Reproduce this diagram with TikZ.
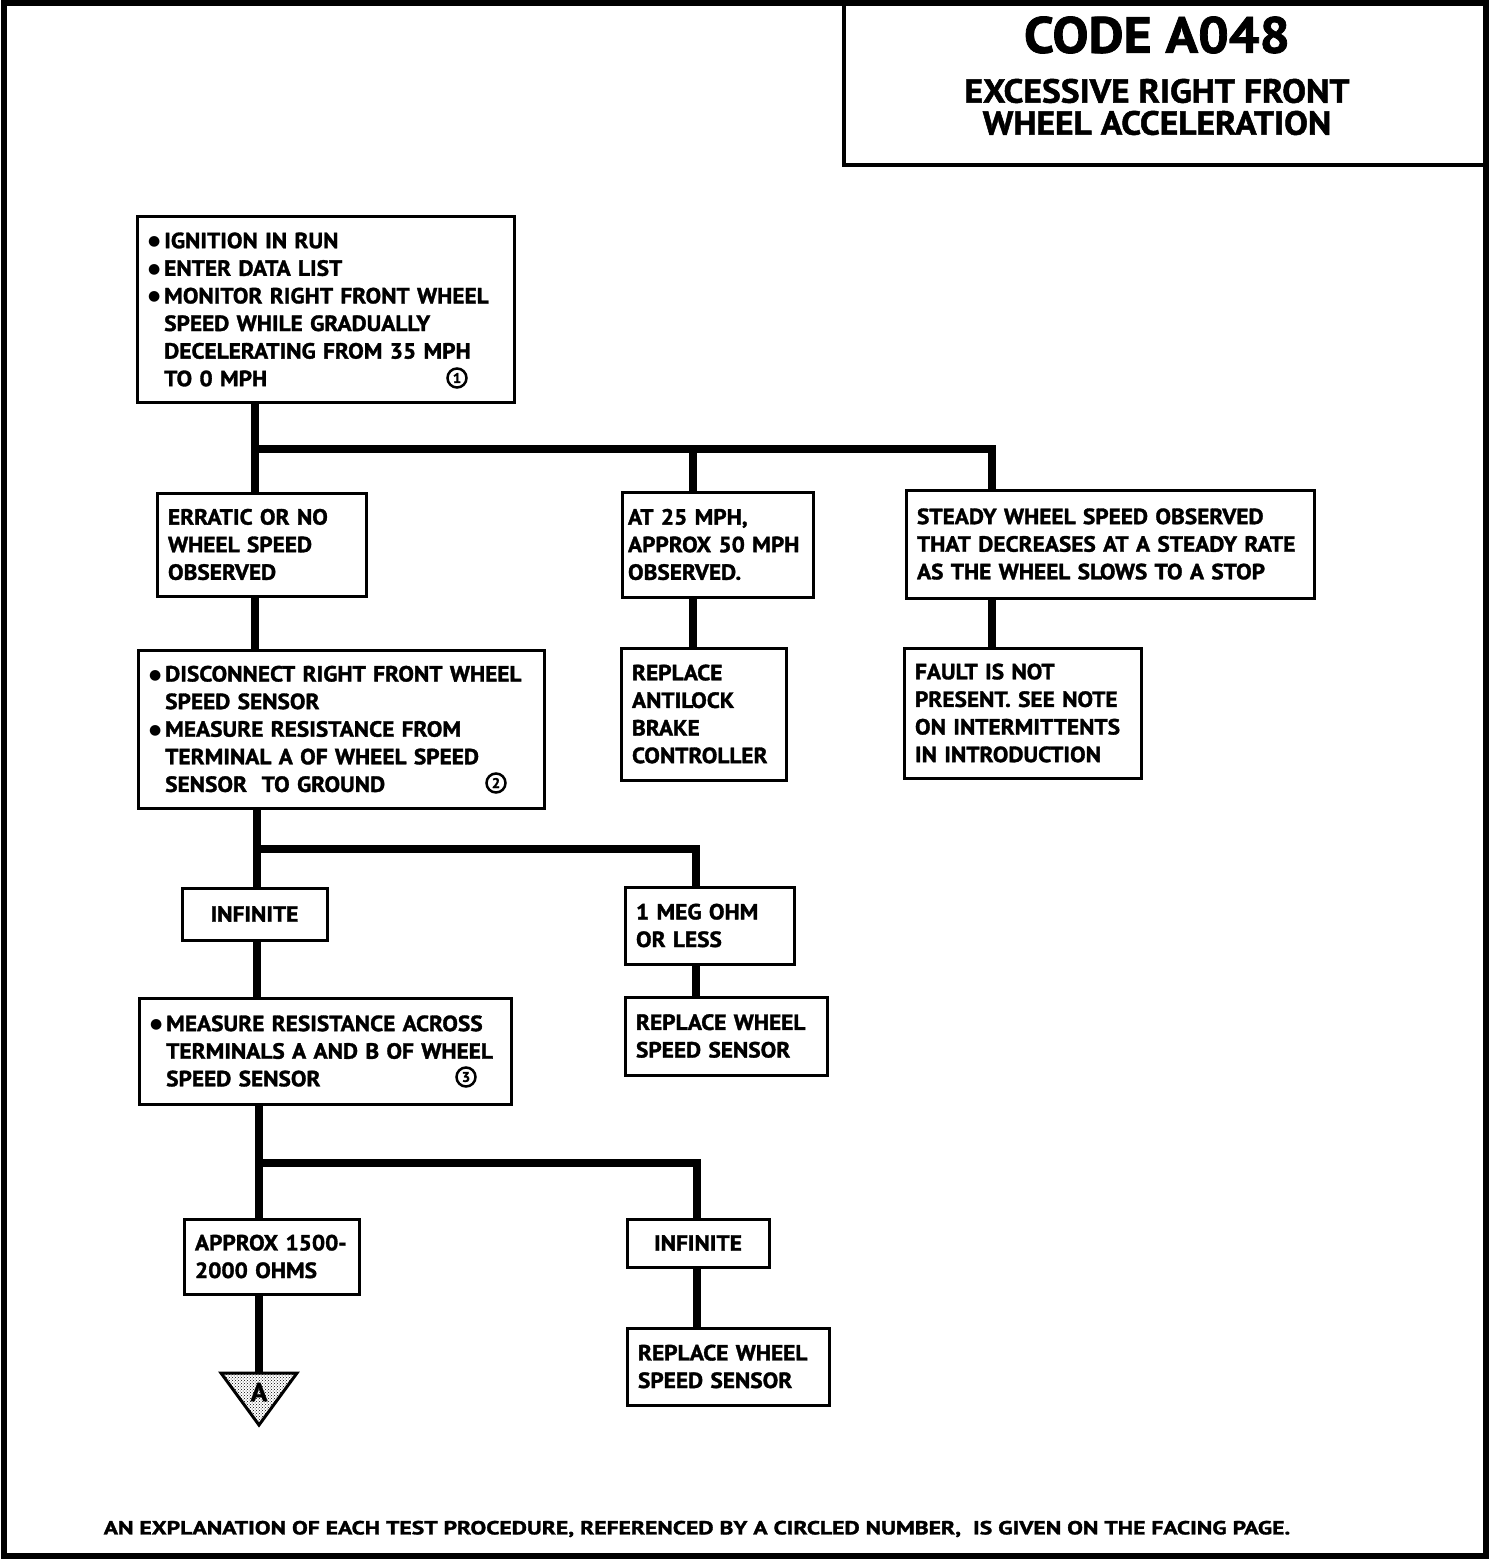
\documentclass[tikz,border=0pt]{standalone}
\usepackage{fontspec}
\setmainfont{PT Sans}[BoldFeatures={FakeBold=1.5, FakeStretch=1.06}]
\newfontfamily\symfont{DejaVu Sans}
\usetikzlibrary{patterns}
\newcommand\bodyfont{\fontsize{22}{27.6}\selectfont\bfseries}
\newcommand\bul{\raisebox{2.5pt}{\symfont\fontsize{14}{14}\selectfont ●}\hspace{4pt}}
\newcommand\ind{\hphantom{\bul}}
\tikzset{
  stepbox/.style={draw, line width=3pt, fill=white, align=left, inner xsep=11pt, inner ysep=0pt, font=\bodyfont},
  midbox/.style={stepbox, align=center},
  wire/.style={line width=8pt},
  circnum/.style={circle, draw, line width=2.5pt, inner sep=0pt, minimum size=19pt, font=\fontsize{14}{14}\selectfont\bfseries},
  frameline/.style={line width=6pt},
}

\begin{document}
\begin{tikzpicture}[x=1pt,y=1pt]
\useasboundingbox (0,0) rectangle (1504,-1562);
\draw[frameline] (4,-3) rectangle (1486,-1556);
\draw[line width=4pt] (844,-3) rectangle (1486,-165);
\node[font=\fontsize{51}{51}\selectfont\bfseries] (code) at (1157,-35) {CODE A048};
\node[inner sep=0pt, font=\fontsize{33.5}{33.5}\selectfont\bfseries] (title) at (1157,-91) {EXCESSIVE RIGHT FRONT};
\node[inner sep=0pt, font=\fontsize{33.5}{33.5}\selectfont\bfseries] (title2) at (1157,-123) {WHEEL ACCELERATION};

\node[stepbox, text width=355pt, minimum height=185pt] (ign) at (325.5,-309.5) {\bul IGNITION IN RUN\\ \bul ENTER DATA LIST\\ \bul MONITOR RIGHT FRONT WHEEL\\ \ind SPEED WHILE GRADUALLY\\ \ind DECELERATING FROM 35 MPH\\ \ind TO 0 MPH};
\node[circnum] (n1) at (457,-378) {1};

\node[stepbox, text width=187pt, minimum height=103pt] (erratic) at (261.5,-544.5) {ERRATIC OR NO\\ WHEEL SPEED\\ OBSERVED};
\node[stepbox, text width=179pt, inner xsep=6pt, minimum height=105pt] (at25) at (717.5,-544.5) {AT 25 MPH,\\ APPROX 50 MPH\\ OBSERVED.};
\node[stepbox, text width=386pt, minimum height=108pt] (steady) at (1110,-544) {STEADY WHEEL SPEED OBSERVED\\ THAT DECREASES AT A STEADY RATE\\ AS THE WHEEL SLOWS TO A STOP};

\node[stepbox, text width=143pt, minimum height=132pt] (replctl) at (703.5,-714) {REPLACE\\ ANTILOCK\\ BRAKE\\ CONTROLLER};
\node[stepbox, text width=215pt, minimum height=130pt] (fault) at (1022.5,-713) {FAULT IS NOT\\ PRESENT. SEE NOTE\\ ON INTERMITTENTS\\ IN INTRODUCTION};

\node[stepbox, text width=384pt, minimum height=158pt] (discon) at (341,-729) {\bul DISCONNECT RIGHT FRONT WHEEL\\ \ind SPEED SENSOR\\ \bul MEASURE RESISTANCE FROM\\ \ind TERMINAL A OF WHEEL SPEED\\ \ind SENSOR\ \ TO GROUND};
\node[circnum] (n2) at (496,-783) {2};

\node[midbox, text width=123pt, minimum height=52pt] (inf1) at (254.5,-914) {INFINITE};
\node[stepbox, text width=147pt, minimum height=77pt] (meg) at (709.5,-925.5) {1 MEG OHM\\ OR LESS};
\node[stepbox, text width=180pt, minimum height=78pt] (replws1) at (726,-1036) {REPLACE WHEEL\\ SPEED SENSOR};

\node[stepbox, text width=350pt, minimum height=106pt] (across) at (325,-1051) {\bul MEASURE RESISTANCE ACROSS\\ \ind TERMINALS A AND B OF WHEEL\\ \ind SPEED SENSOR};
\node[circnum] (n3) at (466,-1077) {3};

\node[stepbox, text width=153pt, minimum height=75pt] (approx) at (271.5,-1256.5) {APPROX 1500-\\ 2000 OHMS};
\node[midbox, text width=120pt, minimum height=48pt] (inf2) at (698,-1243) {INFINITE};
\node[stepbox, text width=180pt, minimum height=77pt] (replws2) at (728,-1366.5) {REPLACE WHEEL\\ SPEED SENSOR};

% off-page mark
\coordinate (tri) at (259,-1373);
\draw[line width=3pt, preaction={fill=white}, pattern=crosshatch dots, pattern color=black]
  ([xshift=-38pt]tri) -- ([xshift=38pt]tri) -- ([yshift=-52pt]tri) -- cycle;
\node[font=\fontsize{26}{26}\selectfont\bfseries] (markA) at (259,-1392) {A};

% connectors
\coordinate (j1) at (255,-449);
\coordinate (j1b) at (693,-449);
\coordinate (j1c) at (992,-449);
\draw[wire] (ign.south -| j1) -- (erratic.north -| j1);
\draw[wire] (j1) -| (at25.north -| j1b);
\draw[wire] (j1) -| (steady.north -| j1c);
\draw[wire] (at25.south -| j1b) -- (replctl.north -| j1b);
\draw[wire] (steady.south -| j1c) -- (fault.north -| j1c);
\draw[wire] (erratic.south -| j1) -- (discon.north -| j1);

\coordinate (j2) at (257,-849);
\coordinate (j2b) at (696,-849);
\draw[wire] (discon.south -| j2) -- (inf1.north -| j2);
\draw[wire] (j2) -| (meg.north -| j2b);
\draw[wire] (meg.south -| j2b) -- (replws1.north -| j2b);
\draw[wire] (inf1.south -| j2) -- (across.north -| j2);

\coordinate (j3) at (259,-1163);
\coordinate (j3b) at (697,-1163);
\draw[wire] (across.south -| j3) -- (approx.north -| j3);
\draw[wire] (j3) -| (inf2.north -| j3b);
\draw[wire] (inf2.south -| j3b) -- (replws2.north -| j3b);
\draw[wire] (approx.south -| j3) -- (tri);

\node[xscale=1.17, transform shape, font=\fontsize{19}{19}\selectfont\bfseries] (note) at (697,-1529) {AN EXPLANATION OF EACH TEST PROCEDURE, REFERENCED BY A CIRCLED NUMBER,\ \ IS GIVEN ON THE FACING PAGE.};
\end{tikzpicture}
\end{document}
